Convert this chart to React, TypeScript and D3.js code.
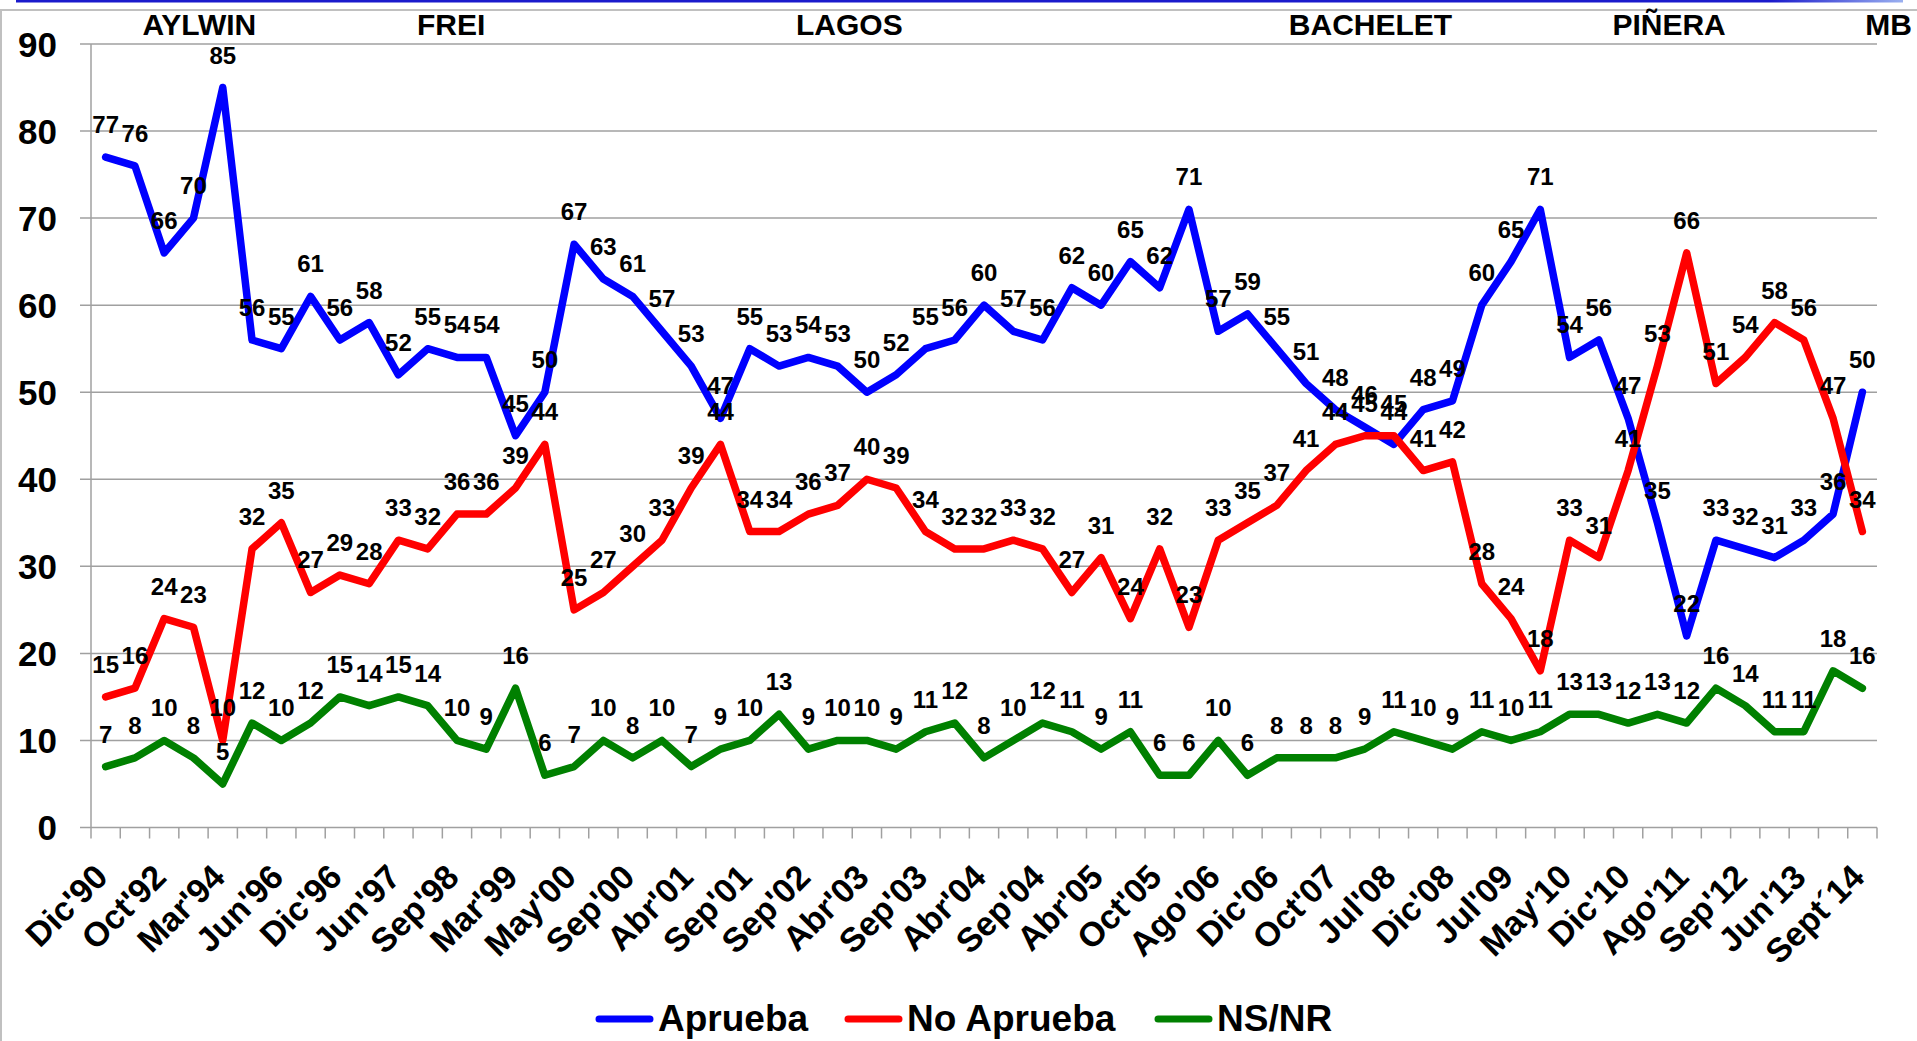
import React from "react";
import * as d3 from "d3";

const tickLabels = [
  "Dic'90", "Oct'92", "Mar'94", "Jun'96", "Dic'96", "Jun'97", "Sep'98", "Mar'99",
  "May'00", "Sep'00", "Abr'01", "Sep'01", "Sep'02", "Abr'03", "Sep'03", "Abr'04",
  "Sep'04", "Abr'05", "Oct'05", "Ago'06", "Dic'06", "Oct'07", "Jul'08", "Dic'08",
  "Jul'09", "May'10", "Dic'10", "Ago'11", "Sep'12", "Jun'13", "Sept´14",
];

const aprueba = [
  77, 76, 66, 70, 85, 56, 55, 61, 56, 58, 52, 55, 54, 54,
  45, 50, 67, 63, 61, 57, 53, 47, 55, 53, 54, 53, 50, 52, 55, 56,
  60, 57, 56, 62, 60, 65, 62, 71, 57, 59, 55, 51, 48, 46, 44,
  48, 49, 60, 65, 71, 54, 56, 47, 35, 22, 33, 32, 31, 33, 36, 50,
];

const noAprueba = [
  15, 16, 24, 23, 10, 32, 35, 27, 29, 28, 33, 32, 36, 36,
  39, 44, 25, 27, 30, 33, 39, 44, 34, 34, 36, 37, 40, 39, 34, 32,
  32, 33, 32, 27, 31, 24, 32, 23, 33, 35, 37, 41, 44, 45, 45,
  41, 42, 28, 24, 18, 33, 31, 41, 53, 66, 51, 54, 58, 56, 47, 34,
];

const nsnr = [
  7, 8, 10, 8, 5, 12, 10, 12, 15, 14, 15, 14, 10, 9,
  16, 6, 7, 10, 8, 10, 7, 9, 10, 13, 9, 10, 10, 9, 11, 12,
  8, 10, 12, 11, 9, 11, 6, 6, 10, 6, 8, 8, 8, 9, 11,
  10, 9, 11, 10, 11, 13, 13, 12, 13, 12, 16, 14, 11, 11, 18, 16,
];

const yTicks = [0, 10, 20, 30, 40, 50, 60, 70, 80, 90];

// presidents: name and position (in survey index units)
const presidents = ["AYLWIN", "FREI", "LAGOS", "BACHELET", "PIÑERA", "MB"];
const presidentPos = [3.2, 11.8, 25.4, 43.2, 53.4, 60.1];

const seriesNames = ["Aprueba", "No Aprueba", "NS/NR"];
const seriesColors = ["#0000FF", "#FF0000", "#008000"];

const FONT = "'Liberation Sans', Arial, sans-serif";

export default function App() {
  const W = 1917;
  const H = 1041;
  const left = 91;
  const right = 1877;
  const top = 44;
  const bottom = 827.5;

  const n = aprueba.length;
  const idx = d3.range(n);
  const x = d3.scaleBand<number>().domain(idx).range([left, right]).padding(0);
  const bw = x.bandwidth();
  const cx = (i: number) => (x(i) as number) + bw / 2;
  const xLin = d3.scaleLinear().domain([0, n - 1]).range([cx(0), cx(n - 1)]);
  const y = d3.scaleLinear().domain([0, 90]).range([bottom, top]);

  const line = d3
    .line<number>()
    .x((_, i) => cx(i))
    .y((d) => y(d));

  const series = [aprueba, noAprueba, nsnr];

  const legendSwatchX = [596, 845, 1155];

  return (
    <div style={{ position: "absolute", left: 0, top: 0, width: W, height: H, background: "#fff" }}>
      <svg width={W} height={H} style={{ display: "block" }} fontFamily={FONT}>
        <defs>
          <linearGradient id="topbar" x1="0" x2="1" y1="0" y2="0">
            <stop offset="0" stopColor="#1a1acc" />
            <stop offset="0.93" stopColor="#1a1acc" />
            <stop offset="1" stopColor="#9ab0f0" />
          </linearGradient>
        </defs>
        <rect x={0} y={0} width={W} height={H} fill="#fff" />
        {/* decorative frame */}
        <rect x={16} y={0} width={1887} height={2.5} fill="url(#topbar)" />
        <line x1={0} x2={W} y1={10} y2={10} stroke="#c0c0c0" strokeWidth={2} />
        <line x1={1} x2={1} y1={10} y2={H} stroke="#c0c0c0" strokeWidth={2} />

        {/* gridlines */}
        {yTicks.map((t) => (
          <line
            key={"g" + t}
            x1={80}
            x2={right}
            y1={y(t)}
            y2={y(t)}
            stroke="#a0a0a0"
            strokeWidth={1.5}
          />
        ))}
        {/* y axis */}
        <line x1={left} x2={left} y1={top} y2={bottom} stroke="#a0a0a0" strokeWidth={1.5} />
        {/* x ticks */}
        {d3.range(n + 1).map((i) => {
          const xx = i < n ? (x(i) as number) : right;
          return (
            <line key={"t" + i} x1={xx} x2={xx} y1={bottom} y2={bottom + 11} stroke="#a0a0a0" strokeWidth={1.5} />
          );
        })}

        {/* y tick labels */}
        {yTicks.map((t) => (
          <text
            key={"yl" + t}
            x={57}
            y={y(t) + 12.5}
            textAnchor="end"
            fontSize={35}
            fontWeight="bold"
            fill="#000"
          >
            {t}
          </text>
        ))}

        {/* x tick labels */}
        {tickLabels.map((lab, k) => {
          const i = k * 2;
          const px = cx(i) + 4;
          const py = 879;
          return (
            <text
              key={"xl" + k}
              transform={`translate(${px},${py}) rotate(-45)`}
              textAnchor="end"
              fontSize={34}
              fontWeight="bold"
              fill="#000"
            >
              {lab}
            </text>
          );
        })}

        {/* president names */}
        {presidents.map((p, k) => (
          <text
            key={"p" + k}
            x={xLin(presidentPos[k])}
            y={35}
            textAnchor={k === presidents.length - 1 ? "start" : "middle"}
            fontSize={30}
            fontWeight="bold"
            fill="#000"
          >
            {p}
          </text>
        ))}

        {/* lines */}
        {series.map((s, k) => (
          <path
            key={"s" + k}
            d={line(s) || ""}
            fill="none"
            stroke={seriesColors[k]}
            strokeWidth={7.5}
            strokeLinejoin="round"
            strokeLinecap="round"
          />
        ))}

        {/* data labels */}
        {series.map((s, k) =>
          s.map((v, i) => (
            <text
              key={"dl" + k + "-" + i}
              x={cx(i)}
              y={y(v) - 24}
              textAnchor="middle"
              fontSize={24}
              fontWeight="bold"
              fill="#000"
            >
              {v}
            </text>
          ))
        )}

        {/* legend */}
        {seriesNames.map((name, k) => (
          <g key={"lg" + k}>
            <line
              x1={legendSwatchX[k] + 3}
              x2={legendSwatchX[k] + 54}
              y1={1019}
              y2={1019}
              stroke={seriesColors[k]}
              strokeWidth={7}
              strokeLinecap="round"
            />
            <text x={legendSwatchX[k] + 62} y={1031} fontSize={37} fontWeight="bold" fill="#000">
              {name}
            </text>
          </g>
        ))}
      </svg>
    </div>
  );
}
